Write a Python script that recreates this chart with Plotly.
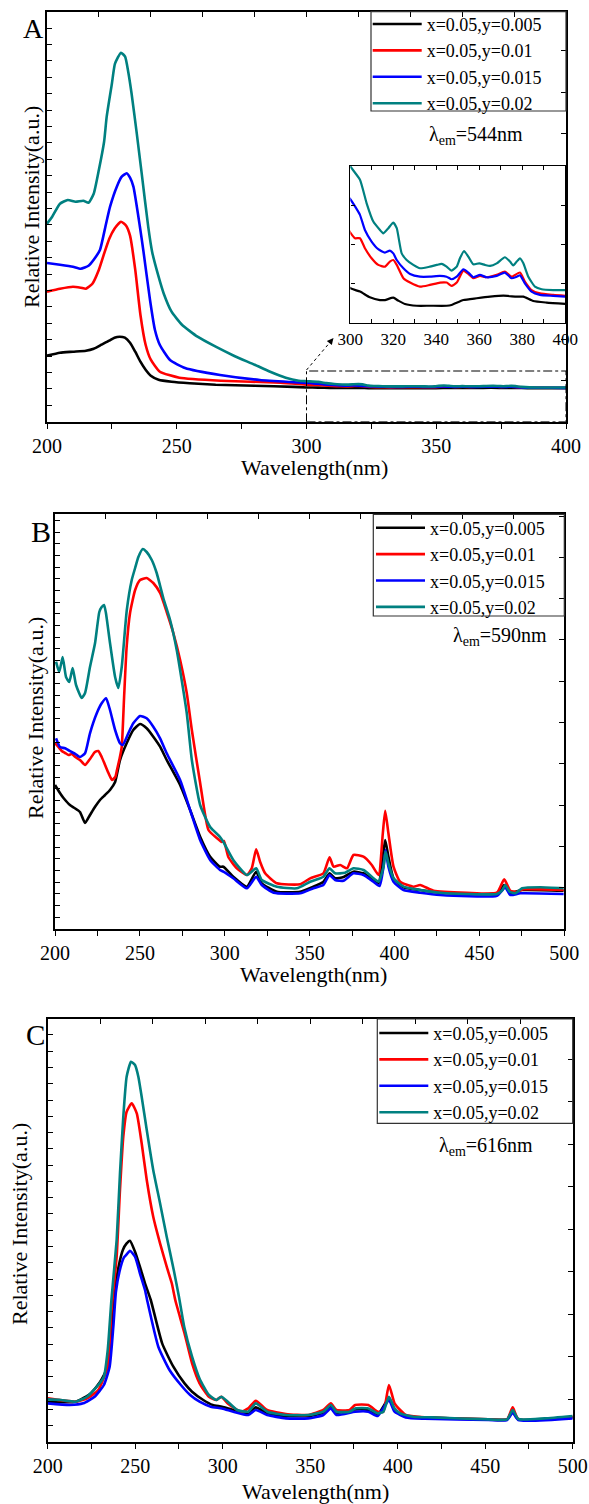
import plotly.graph_objects as go

# ---------------- data ----------------
SERIES = ["x=0.05,y=0.005", "x=0.05,y=0.01", "x=0.05,y=0.015", "x=0.05,y=0.02"]
COLORS = ["#000000", "#ff0000", "#0000ff", "#008080"]

# Panel A  (lambda_em = 544 nm), relative intensity in a.u.
A_BLACK_NM = [200, 205, 210, 215, 218, 221, 224, 226, 228, 230, 232, 234, 236, 238, 240, 243, 248, 255, 265, 280, 295,
              300, 304.5, 309.1, 313.8, 316.1, 320, 322.3, 325.4, 330.9, 337, 344.8, 347.1, 352.6, 358.8, 365, 371.2,
              377.4, 380.5, 385.1, 391.3, 400]
A_BLACK_I = [66, 69, 70, 71, 73, 77, 81, 84, 85, 84, 79, 70, 60, 52, 46, 42, 40, 38.5, 37, 36, 34.8,
             34.27, 34.1, 33.81, 33.67, 33.67, 33.79, 33.64, 33.47, 33.38, 33.38, 33.38, 33.42, 33.67, 33.76, 33.84,
             33.89, 33.84, 33.84, 33.62, 33.54, 33.47]
A_RED_NM = [200, 205, 210, 213, 215, 217.5, 220, 222, 224, 226, 228.5, 230.5, 232, 234, 236, 238, 240, 243.5, 251, 267,
            290, 300, 302.2, 304.5, 306.8, 309.9, 313, 316.1, 318.4, 320, 321.6, 324.7, 327.8, 332.4, 337, 341.7, 344.8,
            347.1, 349.5, 352.6, 354.9, 357.2, 360.3, 363.4, 368.1, 371.9, 375, 378.9, 381.2, 384.3, 388.2, 394.4, 400]
A_RED_I = [130, 133, 135, 134, 133, 138, 152, 168, 183, 193, 200, 196, 186, 152, 107, 77, 62, 50, 44, 41,
           39, 37.11, 36.82, 36.82, 36.31, 35.8, 35.46, 35.37, 35.63, 35.71, 35.46, 34.78, 34.56, 34.35, 34.44, 34.56,
           34.56, 34.39, 34.56, 35.17, 35.0, 34.78, 34.9, 34.83, 34.95, 35.12, 34.86, 35.07, 34.61, 34.18, 34.01,
           33.93, 33.88]
A_BLUE_NM = [200, 205, 210, 213, 216, 218, 220.4, 222.5, 224.3, 226.9, 228.8, 230.7, 232, 233.3, 235.8, 237.1, 239.7,
             241.6, 243.5, 247.4, 253.2, 266.7, 282, 293.6, 300, 302.2, 304.5, 306.8, 309.9, 313, 316.1, 318.4, 320,
             321.6, 324.7, 327.8, 332.4, 337, 341.7, 344.8, 347.1, 349.5, 352.6, 354.9, 357.2, 360.3, 363.4, 368.1,
             371.9, 375, 377.4, 378.9, 381.2, 384.3, 388.2, 394.4, 400]
A_BLUE_I = [158.7, 157, 155, 153, 156, 162, 171.7, 195, 215, 235, 245, 248.4, 244, 235, 195, 171.7, 121.7,
            91.7, 76.7, 61.7, 53.7, 46.7, 41.7, 39.7, 38.81, 38.44, 38.01, 37.24, 36.65, 36.26, 36.09, 36.19, 36.05,
            35.71, 35.29, 35.0, 34.86, 34.86, 34.9, 34.86, 34.73, 34.86, 35.24, 35.07, 34.83, 34.95, 34.83, 34.9,
            35.07, 34.78, 34.86, 34.93, 34.52, 34.1, 33.93, 33.88, 33.84]
A_TEAL_NM = [200, 202, 205, 208, 211, 214, 216, 218, 220, 222, 223, 225, 226.2, 228.5, 230.1, 231.3, 232.6, 234.6,
             236.5, 239, 240.5, 243, 245, 248, 252, 258, 265, 272, 280, 286, 292, 297,
             300, 304.5, 307.6, 310.7, 313.8, 315.3, 317.7, 320, 321.6, 323.9, 326.2, 329.3, 332.4, 337, 340.2, 342.5,
             344.8, 347.1, 349.5, 351, 352.9, 354.9, 357.2, 360, 362.6, 365, 368.1, 371.9, 374.3, 375.8, 377.4, 378.9,
             380.5, 382.8, 385.9, 389, 394.4, 400]
A_TEAL_I = [198, 205, 218, 221.7, 220, 221, 219, 228, 252, 280, 305, 338, 358, 369, 365, 350, 328, 288,
            248, 195, 170, 145, 128, 110, 97, 85, 75, 66, 57, 50, 44, 41,
            40.48, 39.8, 38.6, 37.67, 37.24, 37.07, 37.33, 37.62, 37.33, 36.05, 35.71, 35.46, 35.29, 35.37, 35.46,
            35.51, 35.37, 35.17, 35.37, 35.8, 36.17, 35.88, 35.49, 35.54, 35.46, 35.41, 35.54, 35.85, 35.63, 35.43,
            35.63, 35.8, 35.54, 34.86, 34.35, 34.22, 34.18, 34.18]

# Panel B  (lambda_em = 590 nm)
B_BLACK_NM = [200, 202.9, 205, 208.8, 211.5, 214.7, 217.7, 220.6, 223.5, 226.5, 229.5, 232.4, 235.4, 238.3, 242.2,
              246.1, 250.1, 254, 257.9, 261.9, 265.8, 273.7, 279.6, 285.5, 291.4, 297.2, 299.2, 305, 313, 318.5, 321.8,
              330.7, 344.4, 352.2, 358, 361.7, 365, 370, 375.8, 381.7, 387.6, 390.6, 393.1, 394.5, 396.4, 399.4,
              405.3, 415.1, 426.9, 460.3, 464.6, 468.2, 475.1, 499.6]
B_BLACK_I = [144, 136, 131, 124, 121, 117, 106, 114, 122, 129, 134, 139, 147, 169, 185.7, 199, 205, 200.7, 192.3,
             182.3, 169, 144, 119, 92.3, 72.3, 62.3, 62.3, 52.3, 42.3, 57.3, 45.7, 37.3, 37.3, 42.3, 47, 55.7, 50.7,
             52, 57.3, 55.7, 49, 45.7, 72.3, 89, 72.3, 50.7, 41.7, 39, 36.3, 35.7, 44, 36.3, 39, 38.3]
B_RED_NM = [200, 202, 204, 206, 208, 210, 212, 214.7, 217.7, 220.6, 223.5, 225.5, 227.5, 229.5, 231.5, 233.6, 235.5,
            236.5, 238, 239.3, 240.7, 242.2, 244.2, 247.2, 250.1, 254, 257.9, 261.9, 265.8, 269.7, 273.7, 277.6,
            280.6, 285.5, 290.4, 295.3, 298.2, 299.5, 302.1, 307.1, 313, 315.9, 318.5, 320.8, 323.8, 330.7, 344.4,
            350.3, 358.1, 361.7, 364.1, 368, 372, 375.8, 381.7, 386.6, 390.6, 393.1, 394.5, 396.4, 399.4, 403.3,
            411.2, 415.1, 423, 442.6, 460.3, 464.6, 468.2, 472.1, 476, 499.6]
B_RED_I = [186, 182, 178, 176, 174, 175, 172, 169, 164, 170, 177, 178, 172, 164, 156, 149, 152, 159, 170, 182, 232,
           282, 316, 339, 349, 351, 346, 336, 317, 296, 269, 236, 199, 146, 99, 91, 87, 88, 72, 60.7, 54, 60.7, 79.7,
           67.3, 55.7, 45.7, 44.7, 50.7, 55.7, 71.7, 62.3, 64, 60.7, 74, 72.3, 64, 54, 95.7, 118.3, 95.7, 62.3, 47.3,
           42.3, 44, 38.3, 36.3, 36.3, 49.7, 38.3, 37.3, 39.7, 39]
B_BLUE_NM = [200.6, 202.9, 205.9, 209.8, 212, 214.7, 217.7, 220.6, 224.6, 227.5, 230.1, 232.4, 235.4, 238.3, 239.9,
             243.2, 246.1, 250.1, 254, 257.9, 261.9, 265.8, 273.7, 279.6, 285.5, 291.4, 297.2, 299.2, 305, 313, 318.5,
             321.8, 328.8, 344.4, 352.2, 358.1, 361.7, 365, 369.9, 375.8, 381.7, 387.6, 391.2, 393.5, 394.7, 396.4,
             399.4, 405.3, 415.1, 426.9, 460.3, 465.2, 468.2, 474.1, 499.6]
B_BLUE_I = [190.7, 182, 180.7, 177, 175, 172, 175.7, 195.7, 215.7, 225.7, 230.7, 219, 199, 185.7, 184, 195.7, 205.7,
            213, 210.7, 202.3, 190.7, 175.7, 149, 119, 89, 69, 59, 57.3, 50.7, 40.7, 52.3, 44, 36.3, 35.7, 40.7, 44,
            54, 49, 48.3, 55.7, 54, 47.3, 43, 62.3, 79, 62.3, 47.3, 39, 36.3, 34, 33.3, 41.7, 34, 35.7, 35]
B_TEAL_NM = [200.6, 202.5, 204.5, 206.5, 208.4, 210.4, 212.4, 215.7, 217.7, 220.6, 223.6, 226.1, 227.5, 228.9, 230,
             232.4, 235.4, 237.3, 239.3, 242.3, 245.2, 247.2, 249.1, 251.7, 254, 257, 259.9, 263.8, 267.8, 271.7,
             277.6, 280.6, 285.5, 291.4, 297.2, 299.2, 305, 313, 318.5, 321.8, 330.7, 342.4, 350.3, 358.1, 361.7,
             365, 370.9, 375.8, 381.7, 387.6, 390.6, 393.5, 394.7, 396.4, 399.4, 405.3, 415.1, 426.9, 442.6, 460.3,
             463.3, 465.2, 467.8, 471.1, 475.1, 485.9, 499.6]
B_TEAL_I = [267.3, 257, 272, 252, 247, 261, 244, 231, 236, 262, 286, 317, 322, 324, 316, 286, 252, 241, 262, 319,
            349, 361, 372, 380, 377, 369, 356, 331, 309, 279, 216, 169, 124, 102, 92, 87, 69, 54, 60.7, 49, 42.3,
            40.7, 47.3, 52.3, 60.7, 55.7, 56.3, 60.7, 59, 50.7, 47.3, 62.3, 77.3, 65.7, 50.7, 42.3, 39, 36.3, 35, 35,
            38.3, 44, 37.3, 35.7, 40.7, 41.7, 40.7]

# Panel C  (lambda_em = 616 nm)
C_BLACK_NM = [200, 216, 224.6, 230, 234.3, 236.5, 238.5, 240.5, 243, 245, 247, 249.9, 252.7, 255.6, 258.9, 265.4,
              271.8, 278.2, 282.5, 288.9, 294.3, 299.6, 306.1, 314.6, 318.9, 325.4, 336.1, 348.9, 357.5, 361.8, 365,
              375.7, 383.2, 388.6, 395, 398.2, 404.6, 415.3, 451.8, 462.5, 465.7, 468.9, 500]
C_BLACK_I = [40, 40, 48.3, 60, 75, 110, 152, 175, 192, 198, 201, 190, 175, 158.4, 141.7, 98.3, 75, 58.3, 50, 41.7,
             36.7, 35, 31.7, 28.3, 34.3, 28.3, 25.7, 25.7, 29, 35.7, 29, 32.3, 31.7, 27.3, 43.3, 31.7, 25.7, 24.3,
             22.3, 22.3, 30, 22.3, 24.3]
C_RED_NM = [200, 216, 222.5, 228.9, 234.3, 236.4, 239.4, 241.3, 243.2, 245.1, 248, 250.9, 253.7, 256.6, 260.3, 264.2,
            268, 270.9, 272.9, 278.2, 282.5, 286.8, 292.1, 296.4, 299.2, 302.9, 310.4, 314.6, 318.9, 325.4, 336.1,
            348.9, 357.5, 361.8, 365, 372.5, 375.7, 383.2, 388.6, 391.8, 395, 398.2, 401.4, 404.6, 415.3, 451.8, 462.5,
            465.7, 468.9, 500]
C_RED_I = [43.3, 40, 43.3, 51.7, 75, 130, 185, 251.7, 305, 330, 338.4, 328.4, 298.4, 261.7, 225, 198.4, 175, 158.4,
           141.7, 108.3, 78.3, 58.3, 45, 41.7, 45, 38.3, 30, 33.3, 41, 31.7, 27.7, 26.7, 31.7, 38.3, 31.7, 31.7, 36.7,
           36.7, 30, 30, 56.7, 38.3, 31.7, 26.7, 24.3, 22.3, 22.3, 34.3, 22.7, 25]
C_BLUE_NM = [200, 212.7, 220.3, 226.8, 232.1, 235.4, 237.5, 239, 241, 243.5, 245, 247, 249.9, 252.7, 255.6, 256.8,
             263.2, 269.6, 276.1, 281.4, 286.8, 293.2, 299.6, 306.1, 314.6, 318.9, 325.4, 336.1, 348.9, 357.5, 361.8,
             365, 375.7, 383.2, 388.6, 395, 398.2, 404.6, 415.3, 451.8, 462.5, 465.7, 468.9, 500]
C_BLUE_I = [38.3, 36.7, 38.4, 45, 56.7, 75, 115, 150, 170, 184, 187, 191, 185, 168.4, 151.7, 141.7, 95, 71.7, 56.7,
            46.7, 40, 35, 33.3, 30, 26.7, 31.7, 26.7, 23.3, 23.3, 26.7, 33.3, 26.7, 30, 30, 25.7, 41.7, 30, 24.3, 23,
            21.7, 21.7, 29, 21.7, 23.3]
C_TEAL_NM = [200, 207.5, 216, 222.5, 228.9, 232.1, 234.3, 236.4, 239.4, 241.3, 243.2, 245.1, 247.6, 249.9, 251.8,
             253.7, 256.6, 260.3, 264.2, 268, 272, 275, 278, 282.5, 286.8, 292, 296.4, 299.2, 302.9, 308.2, 314.6,
             318.9, 325.4, 336.1, 348.9, 357.5, 361.8, 365, 372.5, 375.7, 383.2, 388.6, 391.8, 395, 398.2, 401.4,
             408.9, 419.6, 451.8, 462.5, 465.7, 468.9, 483.9, 500]
C_TEAL_I = [42.3, 41.7, 40, 45, 56.7, 65, 91.7, 141.7, 201.7, 268.4, 325, 365, 380, 376.7, 365, 345, 311.7, 271.7,
            238.4, 205, 172, 145, 115, 85, 63, 47, 41.7, 45, 40, 31.7, 30, 38.3, 30, 26.7, 26.7, 30, 36.7, 30, 30,
            33.3, 33.3, 28.3, 30, 45, 33.3, 28.3, 25, 24.3, 22.3, 22.3, 31.7, 22.7, 23.3, 25.7]

A_DATA = [(A_BLACK_NM, A_BLACK_I), (A_RED_NM, A_RED_I), (A_BLUE_NM, A_BLUE_I), (A_TEAL_NM, A_TEAL_I)]
B_DATA = [(B_BLACK_NM, B_BLACK_I), (B_RED_NM, B_RED_I), (B_BLUE_NM, B_BLUE_I), (B_TEAL_NM, B_TEAL_I)]
C_DATA = [(C_BLACK_NM, C_BLACK_I), (C_RED_NM, C_RED_I), (C_BLUE_NM, C_BLUE_I), (C_TEAL_NM, C_TEAL_I)]

EM_LABELS = ["λ<sub>em</sub>=544nm", "λ<sub>em</sub>=590nm", "λ<sub>em</sub>=616nm"]
PANEL_LETTERS = ["A", "B", "C"]
X_TITLE = "Wavelength(nm)"
Y_TITLE = "Relative Intensity(a.u.)"
INSET_X_RANGE = [300, 400]
INSET_Y_RANGE = [32.5, 40.5]
ZOOM_BOX_TOP = 50.7

# ---------------- layout ----------------
W, H = 589, 1504
SERIF = "Liberation Serif, Times New Roman, serif"


def px(x):
    return x / W


def py(y):
    return 1 - y / H


PANELS = [
    dict(x0=47, x1=566, y0=11.7, y1=421.7, xr=[200, 400], yr=[0, 410], ytl=16.4, ytr=41.2, xtop=20,
         data=A_DATA, letter=(33, 29, 28), em=(427, 135),
         legbox=(371, 11.7, 566, 111), legpos=(367.7, 5.8),
         xt=(314, 467), yt=(31, 207)),
    dict(x0=55, x1=564.3, y0=514.3, y1=929, xr=[200, 500], yr=[0, 414.7], ytl=11.67, ytr=41.3, xtop=30,
         data=B_DATA, letter=(41, 531, 30), em=(451, 636),
         legbox=(373.3, 514.3, 564.3, 616), legpos=(371, 509.5),
         xt=(313, 974), yt=(35, 718)),
    dict(x0=47.7, x1=572.7, y0=1019, y1=1441.7, xr=[200, 500], yr=[0, 422.7], ytl=16.27, ytr=42.5, xtop=30,
         data=C_DATA, letter=(35, 1035, 29), em=(437, 1146),
         legbox=(377.3, 1019, 572.7, 1123.3), legpos=(374.3, 1014.8),
         xt=(315, 1491), yt=(19, 1224)),
]

TICK = dict(tickcolor="black", tickwidth=1.3, ticklen=5)

fig = go.Figure()
layout = dict(width=W, height=H, margin=dict(l=0, r=0, t=0, b=0, autoexpand=False), paper_bgcolor="white",
              plot_bgcolor="white", font=dict(family=SERIF, color="black"), showlegend=True)
annotations = []
shapes = []

for i, p in enumerate(PANELS):
    n = i + 1
    xa, ya = ("x", "y") if n == 1 else (f"x{n}", f"y{n}")
    xkey, ykey = ("xaxis", "yaxis") if n == 1 else (f"xaxis{n}", f"yaxis{n}")
    legkey = "legend" if n == 1 else f"legend{n}"
    for k, (nm, inten) in enumerate(p["data"]):
        fig.add_trace(go.Scatter(x=nm, y=inten, mode="lines", name=SERIES[k], legendgroup=f"{n}-{k}",
                                 line=dict(color=COLORS[k], width=2.6, shape="spline", smoothing=0.5),
                                 xaxis=xa, yaxis=ya, legend=legkey))
    xdom = [px(p["x0"]), px(p["x1"])]
    ydom = [py(p["y1"]), py(p["y0"])]
    layout[xkey] = dict(domain=xdom, range=p["xr"], anchor=ya, showgrid=False, zeroline=False, automargin=False,
                        showline=True, linecolor="black", linewidth=1.6, mirror=True,
                        ticks="outside", dtick=50, tick0=200, **TICK,
                        minor=dict(dtick=25, tick0=200, ticks="outside", showgrid=False, **TICK),
                        tickfont=dict(family=SERIF, size=20))
    layout[ykey] = dict(domain=ydom, range=p["yr"], anchor=xa, showgrid=False, zeroline=False, automargin=False,
                        showline=True, linecolor="black", linewidth=1.6, mirror=True,
                        ticks="inside", dtick=p["ytl"], tick0=0, showticklabels=False, **TICK)
    # top and right tick-only axes
    tn = 4 + n
    layout[f"xaxis{tn}"] = dict(overlaying=xa, side="top", anchor=ya, range=p["xr"], showgrid=False,
                                zeroline=False, showline=False, automargin=False, ticks="inside",
                                dtick=p["xtop"], tick0=200, showticklabels=False, **TICK)
    layout[f"yaxis{tn}"] = dict(overlaying=ya, side="right", anchor=xa, range=p["yr"], showgrid=False,
                                zeroline=False, showline=False, automargin=False, ticks="inside",
                                dtick=p["ytr"], tick0=0, showticklabels=False, **TICK)
    fig.add_trace(go.Scatter(x=[], y=[], xaxis=f"x{tn}", yaxis=ya, showlegend=False, hoverinfo="skip"))
    fig.add_trace(go.Scatter(x=[], y=[], xaxis=xa, yaxis=f"y{tn}", showlegend=False, hoverinfo="skip"))

    # legend (frame drawn as a paper rectangle so it sits flush with the axes frame)
    bx0, by0, bx1, by1 = p["legbox"]
    shapes.append(dict(type="rect", xref="paper", yref="paper", x0=px(bx0), x1=px(bx1), y0=py(by1), y1=py(by0),
                       line=dict(color="#333", width=1.2), fillcolor="rgba(0,0,0,0)", layer="above"))
    lx, ly = p["legpos"]
    layout[legkey] = dict(x=px(lx), xanchor="left", y=py(ly), yanchor="top", bgcolor="rgba(0,0,0,0)",
                          borderwidth=0, font=dict(family=SERIF, size=18),
                          itemwidth=49, tracegroupgap=0, traceorder="normal")
    lxx, lyy, lsz = p["letter"]
    annotations.append(dict(text=PANEL_LETTERS[i], x=px(lxx), y=py(lyy), xref="paper", yref="paper",
                            showarrow=False, font=dict(family=SERIF, size=lsz), xanchor="center", yanchor="middle"))
    ex, ey = p["em"]
    annotations.append(dict(text=EM_LABELS[i], x=px(ex), y=py(ey), xref="paper", yref="paper",
                            showarrow=False, font=dict(family=SERIF, size=20), xanchor="left", yanchor="middle"))
    tx, ty = p["xt"]
    annotations.append(dict(text=X_TITLE, x=px(tx), y=py(ty), xref="paper", yref="paper", showarrow=False,
                            font=dict(family=SERIF, size=22), xanchor="center", yanchor="middle"))
    vx, vy = p["yt"]
    annotations.append(dict(text=Y_TITLE, x=px(vx), y=py(vy), xref="paper", yref="paper", showarrow=False,
                            textangle=-90, font=dict(family=SERIF, size=22), xanchor="center", yanchor="middle"))

# inset of panel A
for k, (nm, inten) in enumerate(A_DATA):
    fig.add_trace(go.Scatter(x=nm, y=inten, mode="lines", showlegend=False,
                             line=dict(color=COLORS[k], width=2.2, shape="spline", smoothing=0.5),
                             xaxis="x4", yaxis="y4"))
layout["xaxis4"] = dict(domain=[px(350.3), px(565.3)], range=INSET_X_RANGE, anchor="y4", showgrid=False,
                        zeroline=False, showline=True, linecolor="black", linewidth=1.4, mirror="ticks",
                        automargin=False, ticks="inside", ticklen=4, tickwidth=1.1, tickcolor="black",
                        dtick=20, tick0=300,
                        minor=dict(dtick=10, ticks="inside", ticklen=4, tickwidth=1.1, tickcolor="black"),
                        tickfont=dict(family=SERIF, size=17))
layout["yaxis4"] = dict(domain=[py(323), py(166)], range=INSET_Y_RANGE, anchor="x4", showgrid=False,
                        zeroline=False, showline=True, linecolor="black", linewidth=1.4, mirror="ticks",
                        automargin=False, ticks="inside", ticklen=4, tickwidth=1.1, tickcolor="black",
                        dtick=2, tick0=32.5, showticklabels=False)

# zoom box and arrow in panel A
shapes.append(dict(type="rect", xref="x", yref="y", x0=INSET_X_RANGE[0], x1=INSET_X_RANGE[1], y0=0,
                   y1=ZOOM_BOX_TOP, line=dict(color="black", width=1, dash="dashdot")))
shapes.append(dict(type="line", xref="x", yref="y", x0=INSET_X_RANGE[0], y0=ZOOM_BOX_TOP + 1,
                   x1=INSET_X_RANGE[0] + 8.5, y1=ZOOM_BOX_TOP + 27,
                   line=dict(color="black", width=1, dash="dot")))
annotations.append(dict(x=INSET_X_RANGE[0] + 10.4, y=ZOOM_BOX_TOP + 33, ax=INSET_X_RANGE[0] + 8.3,
                        ay=ZOOM_BOX_TOP + 26.5, xref="x", yref="y", axref="x", ayref="y", text="",
                        showarrow=True, arrowhead=2, arrowsize=1.3, arrowwidth=1, arrowcolor="black"))

layout["annotations"] = annotations
layout["shapes"] = shapes
fig.update_layout(**layout)
fig.write_html("out.html", config={"displayModeBar": False},
               post_script="document.body.style.margin='0px';document.body.style.padding='0px';")
